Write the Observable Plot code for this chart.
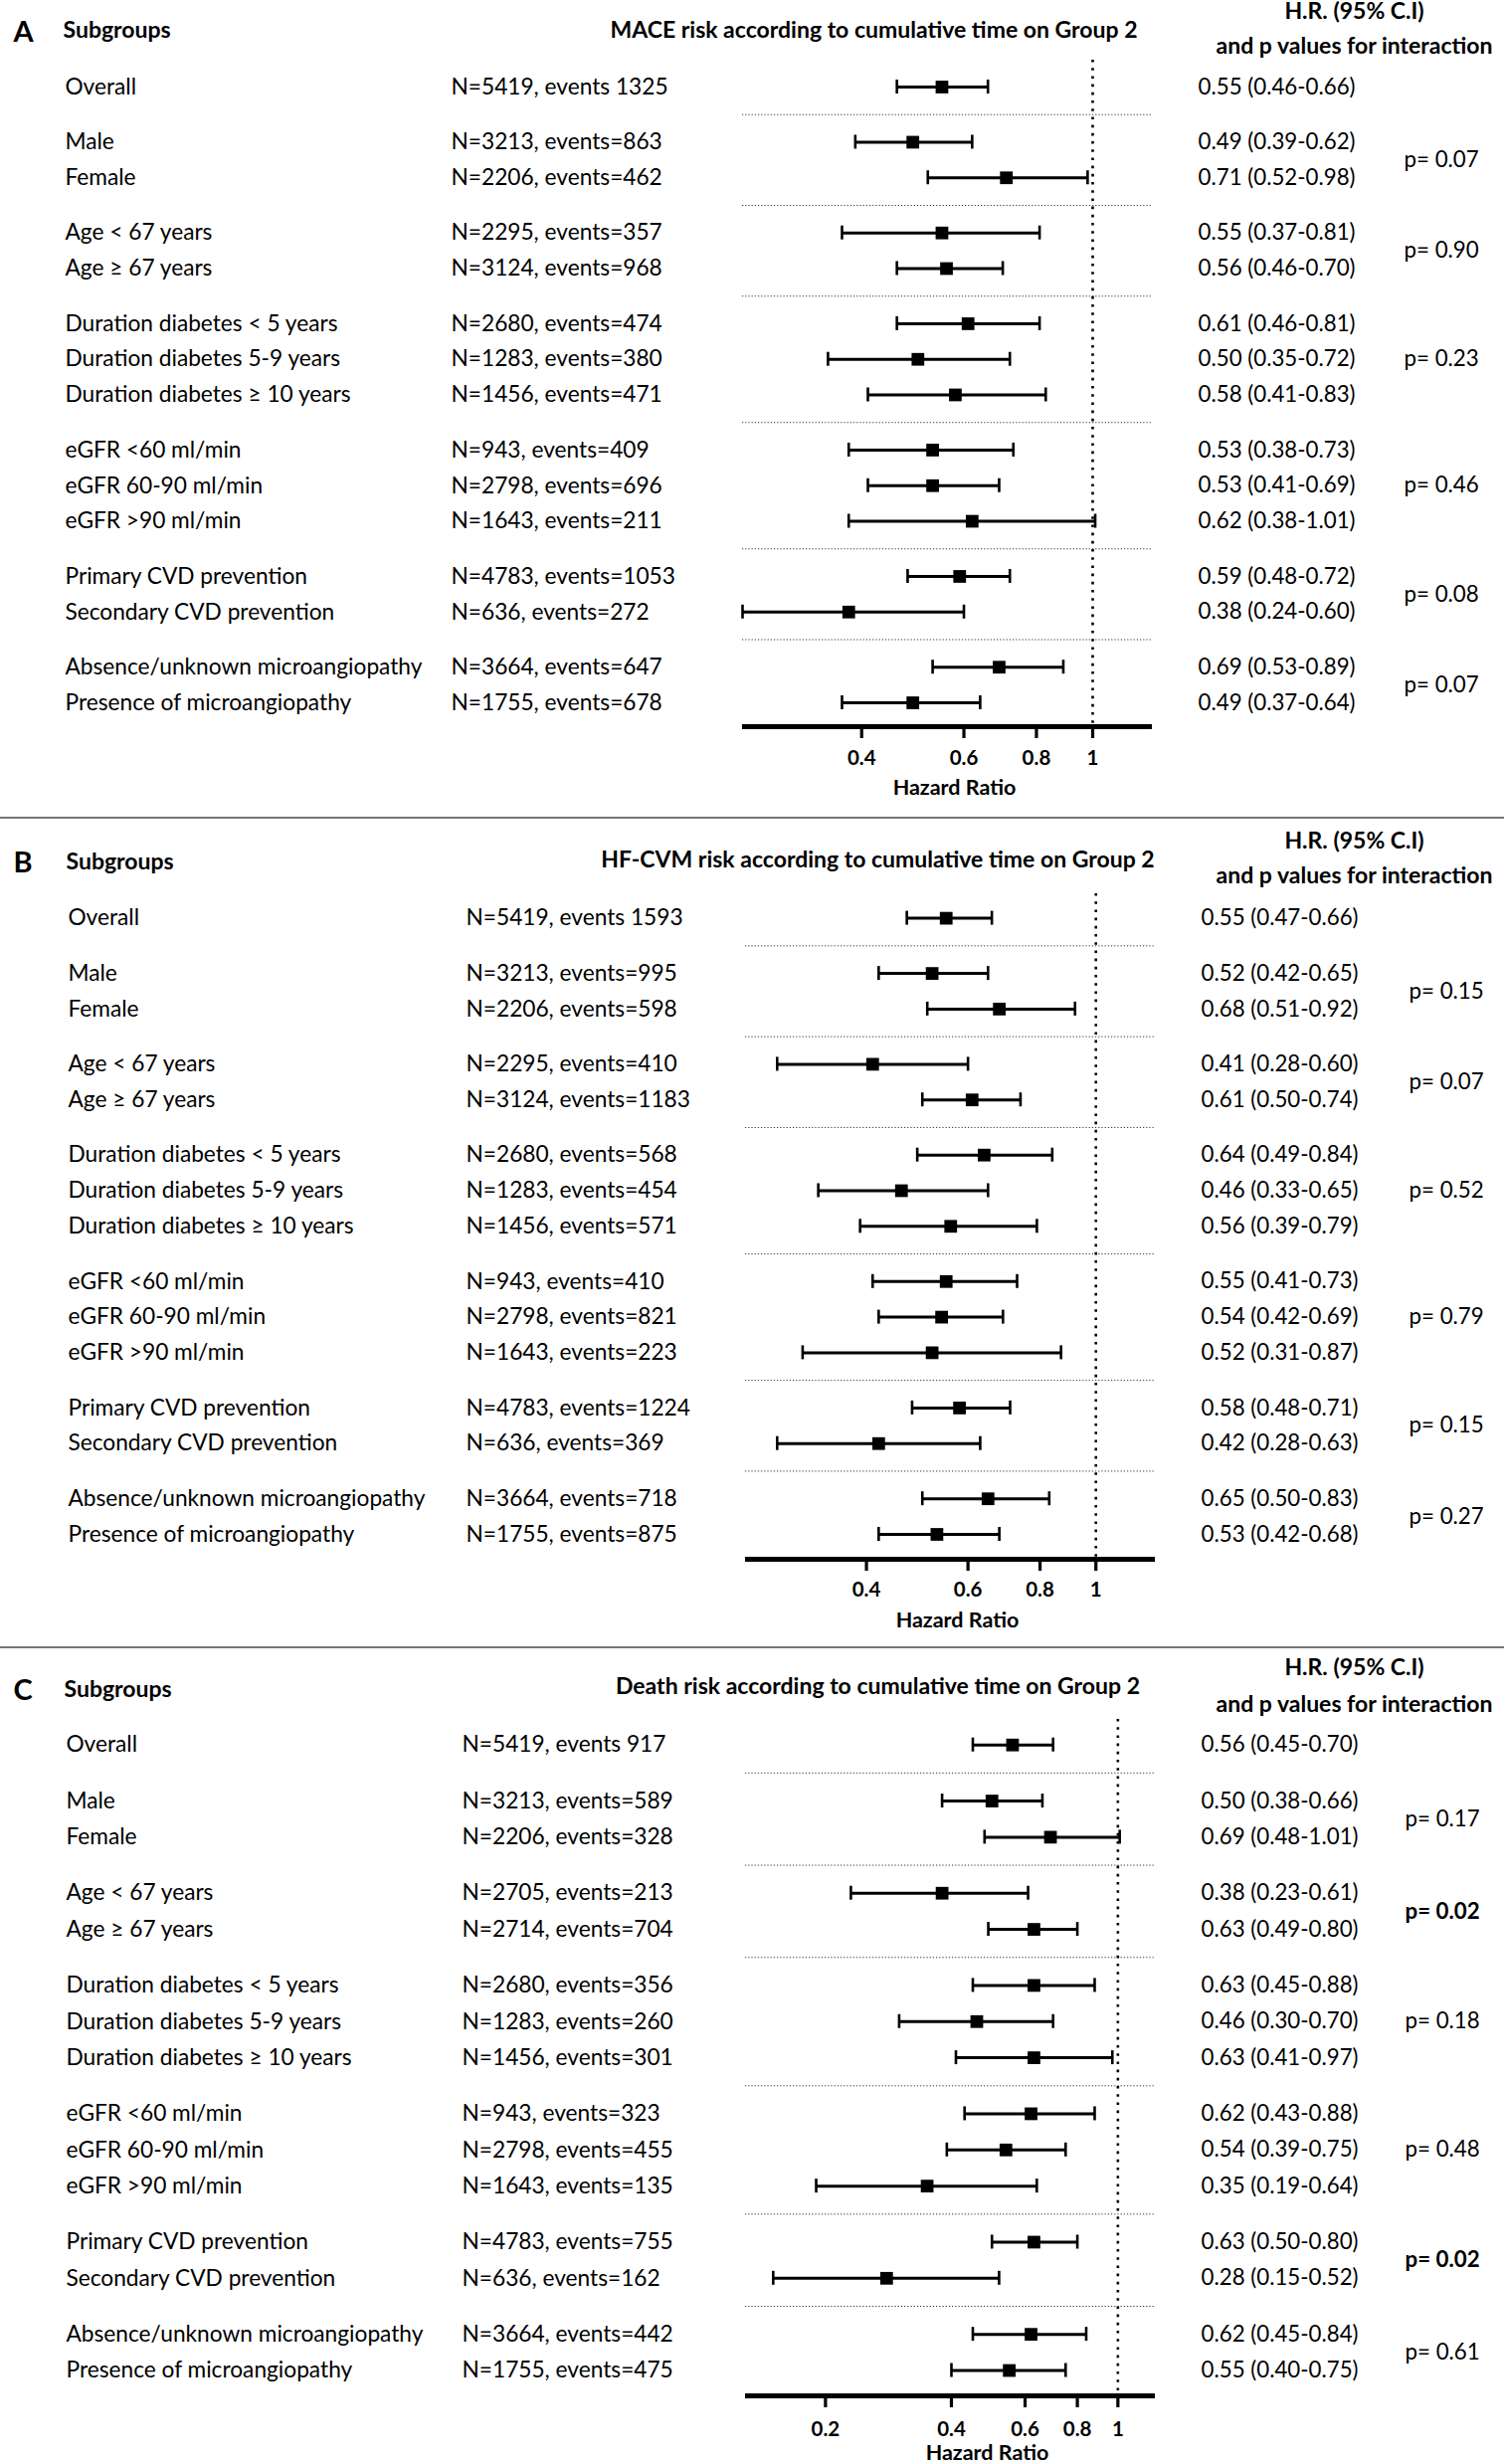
<!DOCTYPE html>
<html><head><meta charset="utf-8">
<script src="https://cdn.jsdelivr.net/npm/d3@7"></script>
<script src="https://cdn.jsdelivr.net/npm/@observablehq/plot@0.6"></script>
<style>
html,body{margin:0;padding:0;background:#fff;}
#chart{width:1512px;}
.sep{height:2px;background:#767676;}
svg{display:block;}
</style></head><body><div id="chart"></div>
<script>
// ---------- data ----------
const subgroups = ["Overall","Male","Female","Age < 67 years","Age \u2265 67 years",
  "Duration diabetes < 5 years","Duration diabetes 5-9 years","Duration diabetes \u2265 10 years",
  "eGFR <60 ml/min","eGFR 60-90 ml/min","eGFR >90 ml/min",
  "Primary CVD prevention","Secondary CVD prevention",
  "Absence/unknown microangiopathy","Presence of microangiopathy"];
const groupIndex = [0,1,1,2,2,3,3,3,4,4,4,5,5,6,6];

const nA = ["N=5419, events 1325","N=3213, events=863","N=2206, events=462","N=2295, events=357","N=3124, events=968","N=2680, events=474","N=1283, events=380","N=1456, events=471","N=943, events=409","N=2798, events=696","N=1643, events=211","N=4783, events=1053","N=636, events=272","N=3664, events=647","N=1755, events=678"];
const hrA = [0.55,0.49,0.71,0.55,0.56,0.61,0.50,0.58,0.53,0.53,0.62,0.59,0.38,0.69,0.49];
const loA = [0.46,0.39,0.52,0.37,0.46,0.46,0.35,0.41,0.38,0.41,0.38,0.48,0.24,0.53,0.37];
const hiA = [0.66,0.62,0.98,0.81,0.70,0.81,0.72,0.83,0.73,0.69,1.01,0.72,0.60,0.89,0.64];
const pA = ["p= 0.07","p= 0.90","p= 0.23","p= 0.46","p= 0.08","p= 0.07"];

const nB = ["N=5419, events 1593","N=3213, events=995","N=2206, events=598","N=2295, events=410","N=3124, events=1183","N=2680, events=568","N=1283, events=454","N=1456, events=571","N=943, events=410","N=2798, events=821","N=1643, events=223","N=4783, events=1224","N=636, events=369","N=3664, events=718","N=1755, events=875"];
const hrB = [0.55,0.52,0.68,0.41,0.61,0.64,0.46,0.56,0.55,0.54,0.52,0.58,0.42,0.65,0.53];
const loB = [0.47,0.42,0.51,0.28,0.50,0.49,0.33,0.39,0.41,0.42,0.31,0.48,0.28,0.50,0.42];
const hiB = [0.66,0.65,0.92,0.60,0.74,0.84,0.65,0.79,0.73,0.69,0.87,0.71,0.63,0.83,0.68];
const pB = ["p= 0.15","p= 0.07","p= 0.52","p= 0.79","p= 0.15","p= 0.27"];

const nC = ["N=5419, events 917","N=3213, events=589","N=2206, events=328","N=2705, events=213","N=2714, events=704","N=2680, events=356","N=1283, events=260","N=1456, events=301","N=943, events=323","N=2798, events=455","N=1643, events=135","N=4783, events=755","N=636, events=162","N=3664, events=442","N=1755, events=475"];
const hrC = [0.56,0.50,0.69,0.38,0.63,0.63,0.46,0.63,0.62,0.54,0.35,0.63,0.28,0.62,0.55];
const loC = [0.45,0.38,0.48,0.23,0.49,0.45,0.30,0.41,0.43,0.39,0.19,0.50,0.15,0.45,0.40];
const hiC = [0.70,0.66,1.01,0.61,0.80,0.88,0.70,0.97,0.88,0.75,0.64,0.80,0.52,0.84,0.75];
const pC = ["p= 0.17","p= 0.02","p= 0.18","p= 0.48","p= 0.02","p= 0.61"];
const pBoldC = [false,true,false,false,true,false];

const ticksAB = [0.4,0.6,0.8,1];
const ticksC = [0.2,0.4,0.6,0.8,1];

// ---------- drawing ----------
const FONT = "Lato, 'Open Sans', sans-serif";
const GAP = 0.55;
const W = 1512;
const fmt = v => v.toFixed(2);

function panel(cfg) {
  const rows = subgroups.map((label, i) => ({
    label, n: cfg.n[i], hr: cfg.hr[i], lo: cfg.lo[i], hi: cfg.hi[i],
    g: groupIndex[i], slot: i + GAP * groupIndex[i],
    txt: `${fmt(cfg.hr[i])} (${fmt(cfg.lo[i])}-${fmt(cfg.hi[i])})`
  }));
  const lastSlot = rows[rows.length - 1].slot;
  const pxPerSlot = (cfg.yLast - cfg.yFirst) / lastSlot;
  const capH = 7 / pxPerSlot;
  const groups = d3.groups(rows, d => d.g).filter(([g]) => g > 0);
  const pRows = groups.map(([g, rs], k) => ({slot: d3.mean(rs, d => d.slot), text: cfg.p[k], bold: cfg.pBold ? cfg.pBold[k] : false}));
  const seps = groups.map(([g, rs]) => { const i = rows.indexOf(rs[0]); return (rows[i].slot + rows[i - 1].slot) / 2; });
  const axisSlot = (cfg.axisY - cfg.yFirst) / pxPerSlot;
  const mt = cfg.dotTop, mb = cfg.height - cfg.axisY;
  const left = cfg.xRange[0];
  const center = (cfg.xRange[0] + cfg.xRange[1]) / 2;
  const T = 22.7;
  const head = (text, x, y, opts = {}) => Plot.text([text], {
    frameAnchor: "top-left", dx: x - left, dy: y - mt, lineAnchor: "middle",
    textAnchor: "start", fontSize: 23, fontWeight: "bold", fill: "black", ...opts
  });
  return Plot.plot({
    width: W, height: cfg.height,
    marginLeft: left, marginRight: W - cfg.xRange[1], marginTop: mt, marginBottom: mb,
    style: {fontFamily: FONT, background: "white", overflow: "visible", color: "black"},
    x: {type: "log", domain: cfg.xDomain, clamp: true, axis: null},
    y: {domain: [0, lastSlot], range: [cfg.yFirst, cfg.yLast], axis: null},
    marks: [
      // header
      head(cfg.letter, 13, cfg.hLetter, {fontSize: 29}),
      head("Subgroups", cfg.labelX - 2, cfg.hSub),
      head(cfg.title, cfg.titleX, cfg.hTitle, {textAnchor: "middle"}),
      head("H.R. (95% C.I)", 1361, cfg.hHR1, {textAnchor: "middle"}),
      head("and p values for interaction", 1361, cfg.hHR2, {textAnchor: "middle"}),
      // group separators and reference line
      Plot.ruleY(seps, {y: d => d, stroke: "#333", strokeWidth: 1, strokeDasharray: "1.2,2"}),
      Plot.ruleX([1], {stroke: "black", strokeWidth: 2.6, strokeDasharray: "2.6,5.6"}),
      // row texts
      Plot.text(rows, {y: "slot", text: "label", frameAnchor: "left", dx: cfg.labelX - left, textAnchor: "start", fontSize: T, fill: "black"}),
      Plot.text(rows, {y: "slot", text: "n", frameAnchor: "left", dx: cfg.nX - left, textAnchor: "start", fontSize: T, fill: "black"}),
      Plot.text(rows, {y: "slot", text: "txt", frameAnchor: "left", dx: cfg.hrX - left, textAnchor: "start", fontSize: 22.3, fill: "black"}),
      Plot.text(pRows.filter(d => !d.bold), {y: "slot", text: "text", frameAnchor: "left", dx: cfg.pX - left, textAnchor: "start", fontSize: 22.3, fill: "black"}),
      Plot.text(pRows.filter(d => d.bold), {y: "slot", text: "text", frameAnchor: "left", dx: cfg.pX - left, textAnchor: "start", fontSize: 22.3, fontWeight: "bold", fill: "black"}),
      // confidence intervals
      Plot.ruleY(rows, {y: "slot", x1: "lo", x2: "hi", stroke: "black", strokeWidth: 3}),
      Plot.ruleX(rows, {x: "lo", y1: d => d.slot - capH, y2: d => d.slot + capH, stroke: "black", strokeWidth: 2.6}),
      Plot.ruleX(rows, {x: "hi", y1: d => d.slot - capH, y2: d => d.slot + capH, stroke: "black", strokeWidth: 2.6}),
      Plot.dot(rows, {x: "hr", y: "slot", symbol: "square", r: 7.2, fill: "black", stroke: "none"}),
      // axis
      Plot.ruleY([axisSlot], {y: d => d, stroke: "black", strokeWidth: 5}),
      Plot.axisX({ticks: cfg.ticks, tickFormat: d => String(d), tickSize: 12, tickPadding: cfg.tickPad,
        fontSize: 20.5, fontWeight: "bold", strokeWidth: 3.2, label: null, fill: "black", stroke: "black"}),
      Plot.text(["Hazard Ratio"], {frameAnchor: "bottom", dx: cfg.hrLabelX - center, dy: cfg.hrLabelY - cfg.axisY,
        lineAnchor: "middle", fontSize: 21.5, fontWeight: "bold", fill: "black"})
    ]
  });
}

const chart = document.getElementById("chart");
function sep() { const d = document.createElement("div"); d.className = "sep"; chart.appendChild(d); }

chart.appendChild(panel({
  letter: "A", title: "MACE risk according to cumulative time on Group 2",
  n: nA, hr: hrA, lo: loA, hi: hiA, p: pA,
  height: 821, xRange: [746, 1158], xDomain: [0.2494, 1.267], ticks: ticksAB, tickPad: 12,
  yFirst: 87, yLast: 706, axisY: 730, dotTop: 60,
  labelX: 65, nX: 453, hrX: 1204, pX: 1411, titleX: 878,
  hLetter: 32, hSub: 30, hTitle: 30, hHR1: 11, hHR2: 46,
  hrLabelX: 959, hrLabelY: 792
}));
sep();
chart.appendChild(panel({
  letter: "B", title: "HF-CVM risk according to cumulative time on Group 2",
  n: nB, hr: hrB, lo: loB, hi: hiB, p: pB,
  height: 832, xRange: [749, 1161], xDomain: [0.2468, 1.268], ticks: ticksAB, tickPad: 11,
  yFirst: 99.6, yLast: 719, axisY: 744, dotTop: 75,
  labelX: 68, nX: 468, hrX: 1207, pX: 1416, titleX: 882,
  hLetter: 44, hSub: 43, hTitle: 41, hHR1: 22, hHR2: 57,
  hrLabelX: 962, hrLabelY: 806
}));
sep();
chart.appendChild(panel({
  letter: "C", title: "Death risk according to cumulative time on Group 2",
  n: nC, hr: hrC, lo: loC, hi: hiC, p: pC, pBold: pBoldC,
  height: 820, xRange: [749, 1161], xDomain: [0.1288, 1.229], ticks: ticksC, tickPad: 14,
  yFirst: 96.7, yLast: 725.5, axisY: 751, dotTop: 71,
  labelX: 66, nX: 464, hrX: 1207, pX: 1412, titleX: 882,
  hLetter: 42, hSub: 41, hTitle: 38, hHR1: 19, hHR2: 56,
  hrLabelX: 992, hrLabelY: 809
}));
</script></body></html>
